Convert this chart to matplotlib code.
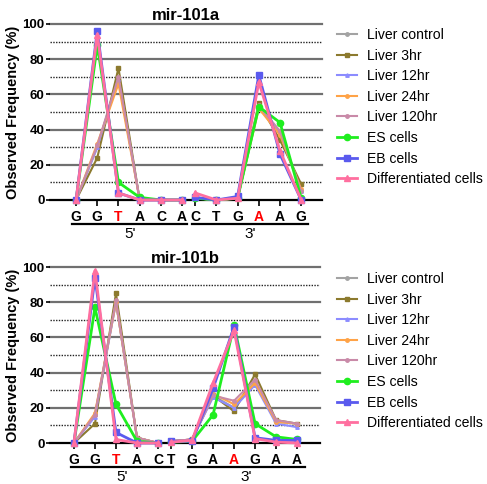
import matplotlib
matplotlib.use('Agg')
import matplotlib.pyplot as plt
import numpy as np

plt.rcParams['font.family'] = ['Liberation Sans', 'DejaVu Sans']

# series names, colours, markers
series = ['Liver control', 'Liver 3hr', 'Liver 12hr', 'Liver 24hr', 'Liver 120hr',
          'ES cells', 'EB cells', 'Differentiated cells']
colors = ['#a3a3a3', '#8c7a2e', '#8c8cff', '#ffa347', '#c98aa8',
          '#1fee1f', '#5a5aee', '#ff6f9f']
markers = ['o', 's', '^', 'o', 'o', 'o', 's', '^']
msizes = [2.5, 3, 2.5, 2.5, 2.5, 4.5, 4.5, 4]
lwidths = [1.5, 1.5, 1.5, 1.5, 1.5, 2, 2, 2]

# mir-101a
a_5p = ['G', 'G', 'T', 'A', 'C', 'A']
a_3p = ['C', 'T', 'G', 'A', 'A', 'G']
a_5p_vals = [
    [0, 30, 70, 0, 0, 0],
    [0, 24, 75, 0, 0, 0],
    [0, 30, 69, 0, 0, 0],
    [0, 32, 66, 0, 0, 0],
    [0, 31, 70, 0, 0, 0],
    [0, 88, 10, 1.5, 0, 0],
    [0, 96, 4, 0, 0, 0],
    [0, 94, 4, 0, 0, 0],
]
a_3p_vals = [
    [1, 0, 1, 53, 39, 5],
    [1, 0, 1, 55, 34, 9],
    [1, 0, 1, 53, 38, 5],
    [1, 0, 1, 52, 37, 6],
    [1, 0, 1, 54, 39, 5],
    [1, 0, 1, 53, 44, 1],
    [1.5, 0, 2, 71, 26, 0],
    [4, 0, 1, 67, 28, 0],
]

# mir-101b
b_5p = ['G', 'G', 'T', 'A', 'C']
b_3p = ['T', 'G', 'A', 'A', 'G', 'A', 'A']
b_5p_vals = [
    [0, 16, 80, 3, 0],
    [0, 11, 85, 3, 0],
    [0, 15, 80, 3, 0],
    [0, 17, 80, 3, 0],
    [0, 16, 81, 3, 0],
    [0, 77, 22, 1, 0],
    [0, 94, 6, 0, 0],
    [0, 98, 2, 0, 0],
]
b_3p_vals = [
    [1, 2, 27, 20, 35, 12, 11],
    [1, 2, 27, 18, 39, 13, 11],
    [1, 2, 26, 20, 33, 11, 9],
    [1, 2, 28, 22, 34, 12, 11],
    [1, 2, 27, 24, 36, 13, 11],
    [0.5, 1, 16, 67, 11, 3.5, 2],
    [1, 1, 31, 66, 3, 1.5, 1.5],
    [0.5, 1.5, 34, 64, 2.5, 0.5, 0],
]

red_5p = 2  # red letter index in 5' group
red_3p = 3  # red letter index in 3' group

fig = plt.figure(figsize=(4.87, 4.84), dpi=100)


def panel(rect, title, l5, l3, v5, v3, xlim, ul5, ul3, leg_anchor):
    ax = fig.add_axes(rect)
    x5 = np.arange(len(l5))
    x3 = len(l5) - 1 + 0.62 + np.arange(len(l3))
    for i in range(len(series)):
        kw = dict(color=colors[i], marker=markers[i], markersize=msizes[i],
                  lw=lwidths[i], clip_on=False, zorder=3 + i)
        ax.plot(x5, v5[i], label=series[i], **kw)
        ax.plot(x3, v3[i], **kw)
    ax.set_xlim(*xlim)
    ax.set_ylim(0, 100)
    for y in [20, 40, 60, 80, 100]:
        ax.axhline(y, color='#707070', lw=1.6, zorder=1, clip_on=False)
    for y in [10, 30, 50, 70, 90]:
        ax.axhline(y, color='#222222', lw=1.0, ls=(0, (1, 1)), zorder=1)
    for s in ['top', 'right', 'left']:
        ax.spines[s].set_visible(False)
    ax.spines['bottom'].set_linewidth(1.6)
    ax.set_yticks([0, 20, 40, 60, 80, 100])
    ax.tick_params(axis='y', length=3, width=1.2, pad=1, labelsize=9.5)
    for t in ax.get_yticklabels():
        t.set_fontweight('bold')
    xs = list(x5) + list(x3)
    ax.set_xticks(xs, l5 + l3)
    ax.tick_params(axis='x', length=4, width=1.2, pad=3.5, labelsize=10)
    labs = ax.get_xticklabels()
    for t in labs:
        t.set_fontweight('bold')
    labs[red_5p].set_color('red')
    labs[len(l5) + red_3p].set_color('red')
    ax.set_ylabel('Observed Frequency (%)', fontsize=10.5, fontweight='bold', labelpad=2)
    ax.set_title(title, fontsize=12, fontweight='bold', pad=3)
    # group underlines and labels
    ax.plot(ul5, [-13.8, -13.8], color='black', lw=1.6, clip_on=False)
    ax.plot(ul3, [-13.8, -13.8], color='black', lw=1.6, clip_on=False)
    ax.text(np.mean(ul5), -15.5, "5'", ha='center', va='top', fontsize=11)
    ax.text(np.mean(ul3), -15.5, "3'", ha='center', va='top', fontsize=11)
    ax.legend(loc='upper left', bbox_to_anchor=leg_anchor, bbox_transform=fig.transFigure,
              frameon=False, fontsize=10.1, handlelength=1.4, handletextpad=0.75,
              labelspacing=0.47, borderpad=0, borderaxespad=0)
    return ax


panel([50 / 487, 1 - 200 / 484, 272 / 487, 176 / 484], 'mir-101a',
      a_5p, a_3p, a_5p_vals, a_3p_vals, (-1.23, 11.6),
      [-0.19, 5.24], [5.47, 10.94], (337 / 487, 1 - 28 / 484))
panel([50 / 487, 1 - 443 / 484, 270 / 487, 176 / 484], 'mir-101b',
      b_5p, b_3p, b_5p_vals, b_3p_vals, (-1.14, 11.71),
      [-0.14, 4.71], [5.43, 11.0], (337 / 487, 1 - 272 / 484))

plt.savefig('out.png', dpi=100)
